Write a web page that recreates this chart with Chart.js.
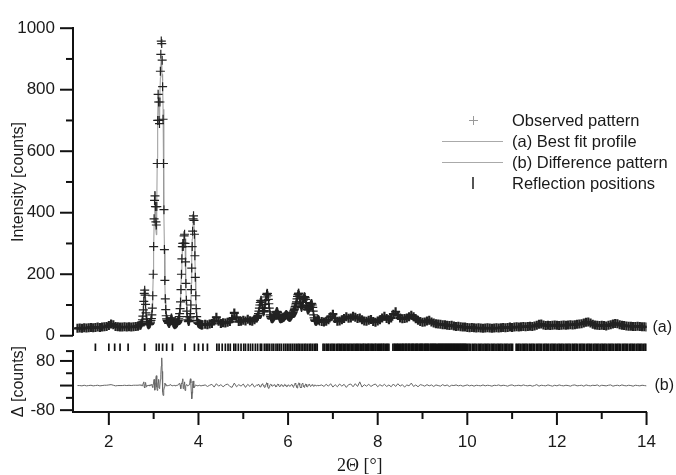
<!DOCTYPE html>
<html>
<head>
<meta charset="utf-8">
<title>Rietveld plot</title>
<script src="https://cdn.jsdelivr.net/npm/chart.js"></script>
<style>
  body { margin: 0; background: #fff; }
  #wrap { position: relative; width: 676px; height: 475px; font-family: "Liberation Sans", Arial, sans-serif; color: #1a1a1a; }
  #chart { position: absolute; left: 0; top: 0; }
  .lg { position: absolute; left: 512px; font-size: 16.5px; line-height: 20px; white-space: nowrap; }
  .sym { position: absolute; }
</style>
</head>
<body>
<div id="wrap">
  <canvas id="chart" width="676" height="475"></canvas>
  <!-- legend -->
  <div class="sym" style="left:469px;top:120px;width:9px;height:1px;background:#999"></div>
  <div class="sym" style="left:473px;top:116px;width:1px;height:9px;background:#999"></div>
  <div class="lg" style="top:110px">Observed pattern</div>
  <div class="sym" style="left:442px;top:141px;width:61px;height:1px;background:#aaa"></div>
  <div class="lg" style="top:131px">(a) Best fit profile</div>
  <div class="sym" style="left:442px;top:162px;width:61px;height:1px;background:#aaa"></div>
  <div class="lg" style="top:152px">(b) Difference pattern</div>
  <div class="sym" style="left:472px;top:177px;width:2px;height:12px;background:#555"></div>
  <div class="lg" style="top:173px">Reflection positions</div>
</div>
<script>
// scan segments: start 2theta and step for each block of counts
const segX0 = [1.30, 2.71, 4.15, 5.31, 6.75];
const segDx = [0.05, 0.01, 0.05, 0.01, 0.05];

// observed counts
const obsA = [24,25,24,26,25,26,27,26,27,28, 27,28,29,30,33,38,36,30,29,28, 28,29,28,29,28,29,30,31,34];
const obsB = [35,37,40,45,52,64,84,112,138,148, 132,102,74,55,45,40,37,36,36,37,
  38,40,44,50,56,68,90,130,200,290, 380,440,455,420,370,360,420,560,700,785,
  760,700,690,760,860,915,958,950,896,810, 704,560,410,280,180,120,85,65,55,50,
  47,45,42,40,40,42,46,52,57,58, 54,48,43,40,38,37,36,37,38,38,
  40,41,43,46,50,55,62,72,88,110, 150,200,250,290,300,290,300,325,330,300,
  240,170,115,80,62,52,48,46,47,50, 58,72,100,150,220,290,340,380,390,375,
  330,260,190,130,88,62,50,44,41,40, 39,38,37,37,36,36,35,35,36,36];
const obsC = [37,36,38,40,48,60,47,40,42,41, 44,46,55,74,60,46,47,50,48,54, 49,47,52,58];
const obsD = [60,62,66,72,80,90,100,108,114,115, 110,100,90,82,78,78,82,90,102,115,
  126,134,138,137,130,118,104,90,78,68, 62,58,56,55,55,56,58,60,62,64,
  67,70,74,77,79,78,75,70,65,61, 58,56,55,55,56,57,58,58,59,60,
  61,62,64,66,68,69,68,66,64,63, 62,61,60,60,61,62,64,66,69,72,
  75,78,82,86,90,95,100,105,110,120, 128,134,138,138,132,122,110,100,94,92,
  94,100,108,116,122,126,127,124,118,108, 98,90,86,84,84,86,88,92,96,100,
  103,105,104,100,92,80,68,58,52,49, 48,47,47,48,50,52,53,52,50,48];
const obsE = [46,45,47,52,62,70,56,47,48,52, 56,62,57,58,63,60,56,58,52,48,
  47,50,53,46,44,48,52,58,63,56, 52,58,70,78,66,58,55,56,58,62,
  67,62,55,50,46,44,45,48,50,45, 41,39,38,37,36,36,34,33,34,32,
  30,31,29,28,28,27,26,27,26,25, 26,25,24,25,26,25,24,25,26,25,
  26,27,26,27,28,27,28,29,28,29, 30,29,30,31,30,32,34,37,38,35,
  33,34,33,34,35,34,33,34,35,34, 35,36,35,36,37,38,39,41,44,45,
  41,37,35,34,33,34,33,32,34,36, 38,40,39,36,34,33,32,31,31,30,
  30,31,30,29,29,28];

// best fit profile
const fitA = [24,25,25,25,26,26,26,27,27,27, 28,28,28,29,31,35,35,31,29,28, 28,28,28,28,28,28,29,30,32];
const fitB = [34,37,38,44,53,61,76,100,143,156, 126,94,70,54,45,40,38,36,36,37,
  38,40,43,47,54,64,93,136,195,278, 360,450,470,412,345,328,425,576,710,775,
  740,708,700,765,840,880,895,860,850,830, 736,588,425,284,172,115,83,66,54,50,
  48,44,42,41,41,42,46,52,56,57, 54,48,43,40,38,37,37,37,38,38,
  40,41,42,44,48,53,57,64,84,116, 160,192,244,276,278,300,306,320,318,316,
  252,168,111,79,64,52,47,45,44,44, 48,50,92,170,263,315,334,365,380,383,
  334,258,187,129,89,62,49,45,41,40, 39,37,37,37,36,36,35,35,36,36];
const fitC = [37,37,38,41,49,57,48,41,41,42, 44,47,56,70,60,47,47,49,49,52, 50,48,52,57];
const fitD = [60,62,66,72,79,88,98,106,111,112, 108,99,90,83,79,79,83,91,103,114,
  124,131,134,133,127,116,103,90,78,68, 62,58,56,55,55,56,58,60,62,64,
  67,70,73,76,77,76,74,70,65,61, 58,56,55,55,56,57,58,58,59,60,
  61,62,64,66,67,67,67,66,64,63, 62,61,60,60,61,62,64,66,69,72,
  75,78,82,86,90,95,100,106,112,120, 127,132,134,134,129,120,109,100,94,92,
  94,100,107,114,119,122,123,121,116,107, 98,90,86,84,84,86,88,92,95,99,
  101,102,101,98,90,80,68,58,52,49, 48,47,47,48,50,52,53,52,50,48];
const fitE = [46,46,48,53,61,67,57,48,48,52, 56,60,58,59,62,60,57,57,52,49,
  48,50,52,47,45,48,52,57,61,56, 53,59,69,75,66,58,55,56,58,62,
  65,61,55,50,46,44,45,48,49,45, 41,39,38,37,36,35,34,33,33,32,
  31,30,29,28,28,27,27,26,26,25, 25,25,25,25,25,25,25,25,25,25,
  26,26,26,27,27,27,28,28,28,29, 29,29,30,30,31,32,34,36,37,35,
  34,34,34,34,34,34,34,34,34,34, 35,35,35,36,37,38,39,41,43,44,
  41,38,35,34,34,33,33,33,34,36, 38,39,38,36,34,33,32,31,31,30,
  30,30,30,29,29,28];

// difference pattern
const diffA = [0,0,-1,1,-1,0,1,-1,0,1, -1,0,1,1,2,3,1,-1,0,0, 0,1,0,1,0,1,1,1,2];
const diffB = [1,0,2,1,-1,3,8,12,-5,-8, 6,10,-4,-2,1,0,-1,1,0,2,
  -1,0,1,3,2,4,-3,-6,5,12, 20,-10,-15,8,25,32,-5,-16,-10,10,
  20,-8,-10,-5,20,35,63,90,46,-20, -32,-28,-15,-4,8,5,2,-1,1,0,
  -1,0,0,1,1,2,3,2,1,0, -1,-1,0,0,1,1,0,0,-1,0,
  0,1,1,2,3,5,7,6,2,-6, -10,8,6,14,22,-10,-6,5,12,-16,
  -12,-2,3,2,0,-1,0,1,3,6, 10,22,8,-20,-43,-25,6,15,10,-8,
  -4,-1,1,2,1,0,-1,-1,0,1, 0,1,1,0,-1,-1,0,1,1,0];
const diffC = [2,-3,1,4,-5,6,-2,3,-4,2, 5,-3,-6,8,-4,3,-2,5,-6,4, -3,6,-5,2];
const diffD = [0,2,4,5,3,0,-3,-5,-4,-1, 2,5,6,4,1,-2,-5,-6,-3,1,
  5,9,8,3,-3,-8,-9,-5,0,3, 4,3,1,-1,-2,-2,0,2,3,2,
  0,-2,-4,-3,0,3,5,4,1,-2, -3,-2,0,2,3,2,0,-2,-3,-1,
  1,3,4,2,-1,-3,-4,-2,1,2, 2,1,-1,-2,-1,1,3,4,2,-1,
  -4,-6,-3,2,6,8,5,0,-5,-8, -6,-1,5,9,7,1,-5,-8,-6,-1,
  4,7,5,0,-4,-6,-3,2,5,4, 0,-3,-4,-2,1,3,4,2,-1,-3,
  -2,0,2,3,1,-1,-2,-1,1,2, 1,0,-1,-1,0,1,1,0,-1,0];
const diffE = [2,-3,4,-2,6,-5,3,-4,5,-2, 4,-6,3,5,-4,6,-3,12,-5,3,
  -2,4,-3,2,5,-4,3,-2,4,-3, 2,-4,5,-3,6,-2,3,-5,2,-1,
  8,-3,2,-4,3,1,-2,3,-1,2, -3,2,0,-2,3,-1,2,-3,1,0,
  2,-1,1,-2,0,2,-1,1,-2,1, 0,-1,2,-1,1,0,-2,1,0,2,
  -1,1,0,-2,1,2,-1,0,1,-1, 2,0,-1,1,-2,0,3,-2,1,0,
  -1,2,0,-2,1,-1,2,0,-1,1, 0,-2,1,2,-1,0,1,-2,2,0,
  -1,1,0,2,-2,1,0,-1,1,2, -2,0,1,-1,2,0,-1,1,0,-2,
  1,0,-1,1,0,-1];

// Bragg reflection positions (2theta)
const reflPos = [1.70,2.00,2.13,2.25,2.43,2.80,3.06,3.12,3.20,3.29,3.42,3.70,3.91,4.00,4.10,4.20,
  4.41,4.46,4.53,4.60,4.66,4.71,4.79,4.83,4.89,4.95,5.01,5.05,5.11,5.16,5.21,5.27,5.32,5.38,5.41,5.47,
  5.51,5.55,5.59,5.64,5.68,5.73,5.77,5.81,5.85,5.90,5.94,5.98,6.02,6.06,6.10,6.14,6.18,6.22,6.25,6.29,
  6.33,6.37,6.40,6.44,6.48,6.51,6.55,6.59,6.62,6.65,6.78,6.81,6.85,6.88,6.91,6.95,6.98,7.01,7.04,7.08,
  7.11,7.14,7.17,7.20,7.23,7.26,7.29,7.32,7.35,7.38,7.41,7.44,7.47,7.50,7.53,7.55,7.58,7.61,7.64,7.67,
  7.69,7.72,7.75,7.78,7.80,7.83,7.86,7.88,7.91,7.94,7.96,7.99,8.02,8.04,8.07,8.09,8.12,8.14,8.17,8.20,
  8.22,8.25,8.34,8.37,8.39,8.42,8.44,8.46,8.49,8.51,8.54,8.56,8.58,8.61,8.63,8.65,8.68,8.70,8.72,8.75,
  8.77,8.79,8.81,8.84,8.86,8.88,8.90,8.93,8.95,8.97,8.99,9.01,9.04,9.06,9.08,9.10,9.12,9.14,9.17,9.19,
  9.21,9.23,9.25,9.27,9.29,9.31,9.34,9.36,9.38,9.40,9.42,9.44,9.46,9.48,9.50,9.52,9.54,9.56,9.58,9.60,
  9.62,9.64,9.66,9.68,9.70,9.72,9.74,9.76,9.78,9.80,9.82,9.84,9.86,9.88,9.90,9.92,9.94,9.96,9.98,
  10.01,10.04,10.07,10.11,10.14,10.17,10.20,10.24,10.27,10.30,10.33,10.37,10.40,10.43,10.46,10.49,
  10.53,10.56,10.59,10.62,10.66,10.69,10.72,10.75,10.78,10.82,10.85,10.88,10.91,10.95,10.98,11.01,
  11.09,11.12,11.15,11.18,11.22,11.25,11.28,11.31,11.34,11.38,11.41,11.44,11.47,11.50,11.54,11.57,
  11.60,11.63,11.66,11.70,11.73,11.76,11.79,11.82,11.86,11.89,11.92,11.95,11.98,12.02,12.05,12.08,
  12.11,12.14,12.18,12.21,12.24,12.27,12.30,12.34,12.37,12.40,12.43,12.46,12.50,12.53,12.56,12.59,
  12.62,12.66,12.69,12.72,12.75,12.78,12.82,12.85,12.88,12.91,12.94,12.98,13.01,13.04,13.07,13.10,
  13.14,13.17,13.20,13.23,13.26,13.30,13.33,13.36,13.39,13.42,13.46,13.49,13.52,13.55,13.58,13.62,
  13.65,13.68,13.71,13.74,13.78,13.81,13.84,13.87,13.90,13.94,13.97,14.00];

// axis ticks
const xMajor = [2,4,6,8,10,12,14];
const xMinor = [3,5,7,9,11,13];
const yMajor = [0,200,400,600,800,1000];
const yMinor = [100,300,500,700,900];
const dMajor = [-80,0,80];
const dMinor = [-40,40,112];

function seg(k, vals) {
  return vals.map((v, i) => ({ x: +(segX0[k] + i * segDx[k]).toFixed(2), y: v }));
}
function series(arrs) {
  return [].concat(...arrs.map((a, k) => seg(k, a)));
}
const obsPts = series([obsA, obsB, obsC, obsD, obsE]);
const fitPts = series([fitA, fitB, fitC, fitD, fitE]);
const diffPts = series([diffA, diffB, diffC, diffD, diffE]);
const reflPts = reflPos.map(x => ({ x: x, y: 0.1 }));

// coarse-step blocks get a heavier cross so the baseline reads as a solid band
function coarse(x) {
  for (let k = segX0.length - 1; k >= 0; k--) {
    if (x >= segX0[k] - 1e-9) return segDx[k] > 0.02;
  }
  return true;
}

const FONT = '"Liberation Sans", Arial, sans-serif';
const INK = '#1a1a1a';

// fixed axis sizes so the plot sits where the original does
const fixW = s => { s.width = 73; };
const plainLabel = v => String(v);

// tick marks (majors long, minors short) and the (a)/(b) tags
const axisTicks = {
  id: 'axisTicks',
  afterDraw(chart) {
    const { ctx, chartArea: ca, scales } = chart;
    ctx.save();
    ctx.strokeStyle = '#111';
    ctx.lineWidth = 2;
    const line = (x1, y1, x2, y2) => { ctx.beginPath(); ctx.moveTo(x1, y1); ctx.lineTo(x2, y2); ctx.stroke(); };
    xMajor.forEach(v => { const p = scales.x.getPixelForValue(v); line(p, ca.bottom, p, ca.bottom + 13); });
    xMinor.forEach(v => { const p = scales.x.getPixelForValue(v); line(p, ca.bottom, p, ca.bottom + 7); });
    yMajor.forEach(v => { const p = scales.yi.getPixelForValue(v); line(ca.left, p, ca.left - 13, p); });
    yMinor.forEach(v => { const p = scales.yi.getPixelForValue(v); line(ca.left, p, ca.left - 7, p); });
    dMajor.forEach(v => { const p = scales.yd.getPixelForValue(v); line(ca.left, p, ca.left - 13, p); });
    dMinor.forEach(v => { const p = scales.yd.getPixelForValue(v); line(ca.left, p, ca.left - 7, p); });
    ctx.fillStyle = INK;
    ctx.font = '16px ' + FONT;
    ctx.textBaseline = 'middle';
    ctx.fillText('(a)', ca.right + 6, scales.yi.getPixelForValue(fitE[fitE.length - 1]));
    ctx.fillText('(b)', ca.right + 8, scales.yd.getPixelForValue(diffE[diffE.length - 1]));
    ctx.restore();
  }
};

new Chart(document.getElementById('chart'), {
  type: 'scatter',
  data: {
    datasets: [
      { label: 'Observed pattern', data: obsPts, yAxisID: 'yi', order: 1,
        pointStyle: 'cross', pointRadius: 4.5,
        borderWidth: c => (c.raw && coarse(c.raw.x)) ? 2.2 : 1.2,
        borderColor: '#222', backgroundColor: '#222' },
      { label: '(a) Best fit profile', data: fitPts, yAxisID: 'yi', order: 2, showLine: true,
        pointRadius: 0, borderWidth: 1, borderColor: '#999' },
      { label: '(b) Difference pattern', data: diffPts, yAxisID: 'yd', order: 3, showLine: true,
        pointRadius: 0, borderWidth: 1, borderColor: '#666' },
      { label: 'Reflection positions', data: reflPts, yAxisID: 'yr', order: 4,
        pointStyle: 'line', rotation: 90, pointRadius: 6, borderWidth: 1.7, borderColor: '#111' }
    ]
  },
  options: {
    responsive: false,
    animation: false,
    devicePixelRatio: 1,
    layout: { padding: { top: 20, right: 29, left: 0, bottom: 0 } },
    plugins: { legend: { display: false }, tooltip: { enabled: false } },
    scales: {
      x: {
        type: 'linear', min: 1.2, max: 14,
        afterFit: s => { s.height = 63; },
        afterBuildTicks: s => { s.ticks = xMajor.map(v => ({ value: v })); },
        grid: { display: false, drawTicks: false },
        border: { display: true, color: '#111', width: 2 },
        ticks: { padding: 20, color: INK, font: { family: FONT, size: 17 }, callback: plainLabel },
        title: { display: true, text: '2\u0398 [\u00b0]', color: INK, padding: { top: 0, bottom: 0 },
          font: { family: '"Liberation Serif", "Times New Roman", serif', size: 18, lineHeight: 1 } }
      },
      yi: {
        type: 'linear', position: 'left', stack: 'left', stackWeight: 1000, weight: 3,
        min: 0, max: 1000,
        afterFit: fixW,
        afterBuildTicks: s => { s.ticks = yMajor.map(v => ({ value: v })); },
        grid: { display: false, drawTicks: false },
        border: { display: true, color: '#111', width: 2 },
        ticks: { padding: 18, color: INK, font: { family: FONT, size: 17 }, callback: plainLabel },
        title: { display: true, text: 'Intensity [counts]', color: INK, padding: { top: 11, bottom: 0 },
          font: { family: FONT, size: 16, lineHeight: 1 } }
      },
      yr: {
        type: 'linear', position: 'left', stack: 'left', stackWeight: 50, weight: 2,
        min: 0, max: 1,
        afterFit: fixW,
        grid: { display: false, drawTicks: false },
        border: { display: false },
        ticks: { display: false }
      },
      yd: {
        type: 'linear', position: 'left', stack: 'left', stackWeight: 198, weight: 1,
        min: -86, max: 112,
        afterFit: fixW,
        afterBuildTicks: s => { s.ticks = dMajor.map(v => ({ value: v })); },
        grid: { display: false, drawTicks: false },
        border: { display: true, color: '#111', width: 2 },
        ticks: { padding: 18, color: INK, font: { family: FONT, size: 17 }, callback: plainLabel },
        title: { display: true, text: '\u0394 [counts]', color: INK, padding: { top: 11, bottom: 0 },
          font: { family: FONT, size: 16, lineHeight: 1 } }
      }
    }
  },
  plugins: [axisTicks]
});
</script>
</body>
</html>
